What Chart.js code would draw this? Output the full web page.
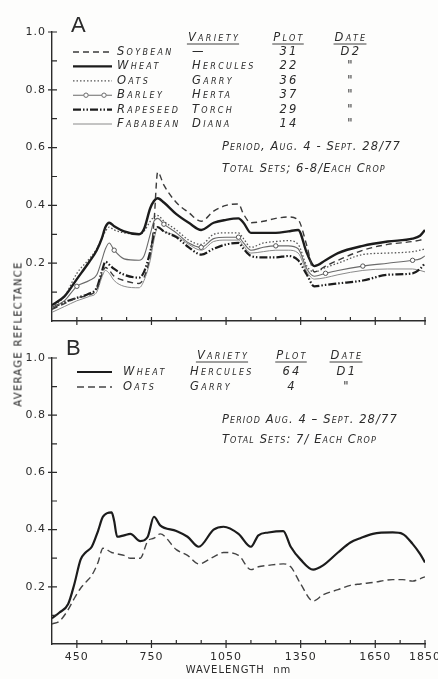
<!DOCTYPE html>
<html lang="en">
<head>
<meta charset="UTF-8">
<title>Average reflectance of crops</title>
<script src="https://cdn.jsdelivr.net/npm/chart.js"></script>
<style>
  html, body { margin: 0; padding: 0; background: #fdfdfc; }
  #page { position: relative; width: 438px; height: 679px; overflow: hidden; }
  canvas { position: absolute; left: 0; }
  #chartA { top: 0; }
  #chartB { top: 330px; }
  #ytitle {
    position: absolute; left: 18px; top: 334px;
    transform: translate(-50%, -50%) rotate(-90deg);
    font: 10px 'DejaVu Sans', sans-serif; letter-spacing: 1.3px;
    color: #222; white-space: nowrap;
  }
</style>
</head>
<body>
<div id="page">
  <canvas id="chartA" width="438" height="330"></canvas>
  <canvas id="chartB" width="438" height="349"></canvas>
  <div id="ytitle">AVERAGE REFLECTANCE</div>
</div>
<script>
// ---- axis ticks ----
const xTickValues = [450, 550, 650, 750, 850, 950, 1050, 1150, 1250, 1350, 1450, 1550, 1650, 1750, 1850];
const xTickLabels = ['450', '', '', '750', '', '', '1050', '', '', '1350', '', '', '1650', '', '1850'];
const yTickValues = [0, 0.1, 0.2, 0.3, 0.4, 0.5, 0.6, 0.7, 0.8, 0.9, 1.0];
const yTickLabels = ['', '', '0.2', '', '0.4', '', '0.6', '', '0.8', '', '1.0'];

// ---- panel A : six crops ----
const cropsA = ['Soybean', 'Wheat', 'Oats', 'Barley', 'Rapeseed', 'Fababean'];
const varietiesA = ['—', 'Hercules', 'Garry', 'Herta', 'Torch', 'Diana'];
const plotsA = ['31', '22', '36', '37', '29', '14'];
const datesA = ['D2', '"', '"', '"', '"', '"'];
const notesA = ['Period, Aug. 4 - Sept. 28/77', 'Total Sets; 6-8/Each Crop'];

const wlA = [350, 400, 450, 500, 530, 550, 565, 580, 600, 640, 700, 720, 745, 760, 775, 800, 850, 900, 950, 1000,
  1050, 1100, 1120, 1150, 1200, 1250, 1300, 1340, 1375, 1405, 1450, 1500, 1600, 1700, 1800, 1830, 1850];
const soybeanA = [.04, .06, .08, .09, .11, .16, .185, .175, .155, .14, .13, .15, .23, .34, .515, .47, .41, .375, .345, .38,
  .40, .405, .37, .34, .345, .355, .36, .35, .26, .17, .19, .21, .245, .265, .275, .28, .285];
const wheatA = [.055, .085, .145, .205, .245, .285, .325, .34, .328, .31, .30, .318, .39, .415, .425, .41, .37, .34, .315, .34,
  .35, .355, .34, .305, .305, .305, .31, .315, .235, .19, .21, .235, .26, .275, .285, .295, .315];
const oatsA = [.05, .085, .165, .215, .25, .285, .31, .325, .315, .305, .30, .31, .345, .36, .365, .345, .315, .28, .265, .30,
  .305, .305, .285, .255, .27, .275, .278, .265, .19, .17, .185, .20, .23, .235, .24, .245, .25];
const barleyA = [.045, .07, .12, .14, .16, .21, .25, .27, .245, .215, .21, .225, .30, .345, .355, .335, .305, .27, .255, .285,
  .29, .29, .27, .245, .255, .26, .26, .25, .18, .155, .165, .175, .19, .20, .21, .215, .225];
const rapeseedA = [.045, .065, .08, .095, .115, .17, .205, .195, .18, .16, .15, .17, .24, .30, .325, .31, .29, .255, .23, .25,
  .265, .27, .25, .225, .22, .22, .225, .21, .16, .12, .125, .13, .14, .16, .165, .18, .20];
const fababeanA = [.03, .05, .07, .085, .10, .15, .175, .165, .14, .12, .115, .14, .21, .28, .325, .31, .295, .265, .245, .275,
  .28, .28, .26, .235, .24, .245, .245, .235, .17, .145, .15, .16, .175, .18, .18, .175, .17];
const barleyMarkWl = [450, 600, 800, 950, 1100, 1250, 1450, 1600, 1800];

// ---- panel B : wheat and oats ----
const cropsB = ['Wheat', 'Oats'];
const varietiesB = ['Hercules', 'Garry'];
const plotsB = ['64', '4'];
const datesB = ['D1', '"'];
const notesB = ['Period Aug. 4 – Sept. 28/77', 'Total Sets: 7/ Each Crop'];

const wlB = [350, 380, 415, 440, 465, 485, 510, 535, 555, 590, 600, 612, 640, 665, 705, 735, 760, 785, 850, 895,
  940, 1000, 1040, 1100, 1150, 1180, 1220, 1280, 1310, 1350, 1400, 1440, 1500, 1550, 1590, 1640, 1720, 1760, 1800, 1830, 1850];
const wheatB = [.09, .11, .14, .21, .295, .32, .34, .395, .445, .46, .43, .375, .38, .385, .36, .375, .445, .415, .395, .375,
  .34, .40, .41, .385, .34, .38, .39, .395, .34, .295, .26, .275, .32, .355, .37, .385, .39, .385, .35, .315, .285];
const oatsB = [.07, .08, .12, .16, .195, .215, .24, .285, .335, .32, .318, .315, .31, .30, .30, .36, .37, .385, .33, .31,
  .28, .305, .32, .31, .26, .27, .275, .28, .27, .21, .15, .172, .19, .205, .21, .215, .225, .225, .22, .228, .235];

const INK = '#2b2b2b';
const LETTERING = "italic small-caps 11.5px 'DejaVu Sans', sans-serif";
const toPoints = (xs, ys) => xs.map((x, i) => ({ x: x, y: ys[i] }));

const styleA = [
  { borderColor: '#3a3a3a', borderWidth: 1.4, borderDash: [6, 4] },
  { borderColor: '#1c1c1c', borderWidth: 2.4 },
  { borderColor: '#555', borderWidth: 1.3, borderDash: [1.5, 2] },
  { borderColor: '#6a6a6a', borderWidth: 1.1, legendMarks: true,
    pointRadius: c => barleyMarkWl.includes(wlA[c.dataIndex]) ? 2.2 : 0,
    pointBackgroundColor: '#fff', pointBorderColor: '#555', pointBorderWidth: 1 },
  { borderColor: '#1c1c1c', borderWidth: 2.2, borderDash: [8, 2, 1.5, 2, 1.5, 2] },
  { borderColor: '#8a8a8a', borderWidth: 1 }
];
const styleB = [
  { borderColor: '#1c1c1c', borderWidth: 2.2 },
  { borderColor: '#444', borderWidth: 1.4, borderDash: [7, 4] }
];

// spaced-out lettering for tick labels and axis title
const spacing = {
  id: 'spacing',
  beforeDraw(chart) { chart.ctx.letterSpacing = '1px'; }
};

// tick marks that cross the axis (major) or point inward (minor)
const axisTicks = {
  id: 'axisTicks',
  afterDraw(chart) {
    const { ctx, chartArea, scales: { x, y } } = chart;
    ctx.save();
    ctx.strokeStyle = INK;
    ctx.lineWidth = 1.2;
    ctx.beginPath();
    xTickValues.forEach((v, i) => {
      const px = x.getPixelForValue(v);
      const major = xTickLabels[i] !== '';
      ctx.moveTo(px, chartArea.bottom - 4);
      ctx.lineTo(px, chartArea.bottom + (major ? 4 : 0));
    });
    yTickValues.forEach((v, i) => {
      if (i === 0) return;
      const py = y.getPixelForValue(v);
      const major = yTickLabels[i] !== '';
      ctx.moveTo(chartArea.left - (major ? 4 : 0), py);
      ctx.lineTo(chartArea.left + 5, py);
    });
    ctx.stroke();
    ctx.restore();
  }
};

// panel letter, legend table and notes
const panelText = {
  id: 'panelText',
  afterDraw(chart, args, o) {
    const ctx = chart.ctx;
    const datasets = chart.data.datasets;
    ctx.save();
    ctx.fillStyle = INK;
    ctx.letterSpacing = '0px';
    ctx.font = "22px 'Liberation Sans', sans-serif";
    ctx.textBaseline = 'alphabetic';
    ctx.fillText(o.letter, o.letterX, o.letterY);

    ctx.font = LETTERING;
    ctx.letterSpacing = '2.3px';
    ctx.textBaseline = 'middle';
    ctx.strokeStyle = INK;
    ctx.lineWidth = 0.9;
    [['Variety', o.varietyHeadX], ['Plot', o.plotX], ['Date', o.dateX]].forEach(([t, cx]) => {
      const w = ctx.measureText(t).width;
      ctx.fillText(t, cx - w / 2, o.headY);
      ctx.beginPath();
      ctx.moveTo(cx - w / 2 - 1, o.headY + 6);
      ctx.lineTo(cx + w / 2 - 1, o.headY + 6);
      ctx.stroke();
    });

    o.crops.forEach((name, i) => {
      const y = o.rowY + i * o.rowStep;
      const ds = datasets[i];
      ctx.save();
      ctx.strokeStyle = ds.borderColor;
      ctx.lineWidth = ds.borderWidth;
      ctx.setLineDash(ds.borderDash || []);
      ctx.beginPath();
      ctx.moveTo(o.sampleX0, y);
      ctx.lineTo(o.sampleX1, y);
      ctx.stroke();
      if (ds.legendMarks) {
        ctx.setLineDash([]);
        ctx.lineWidth = 1;
        ctx.fillStyle = '#fff';
        [o.sampleX0 + 13, o.sampleX1 - 8].forEach(mx => {
          ctx.beginPath();
          ctx.arc(mx, y, 2.2, 0, Math.PI * 2);
          ctx.fill();
          ctx.stroke();
        });
      }
      ctx.restore();
      ctx.fillText(name, o.nameX, y);
      ctx.fillText(o.varieties[i], o.varietyX, y);
      const pw = ctx.measureText(o.plots[i]).width;
      ctx.fillText(o.plots[i], o.plotX - pw / 2, y);
      const dw = ctx.measureText(o.dates[i]).width;
      ctx.fillText(o.dates[i], o.dateX - dw / 2, y);
    });

    ctx.letterSpacing = '1.1px';
    o.notes.forEach((t, k) => ctx.fillText(t, o.noteX, o.noteY + k * o.noteStep));
    ctx.restore();
  }
};

function makeChart(id, crops, wl, series, styles, showXLabels, pad, xHeight, textOpts) {
  const datasets = crops.map((name, i) => Object.assign({
    label: name,
    data: toPoints(wl, series[i]),
    pointRadius: 0,
    fill: false,
    cubicInterpolationMode: 'monotone'
  }, styles[i]));
  return new Chart(document.getElementById(id), {
    type: 'line',
    data: { datasets: datasets },
    plugins: [spacing, axisTicks, panelText],
    options: {
      responsive: false,
      animation: false,
      devicePixelRatio: 1,
      layout: { padding: pad },
      plugins: { legend: { display: false }, tooltip: { enabled: false }, panelText: textOpts },
      scales: {
        x: {
          type: 'linear', min: 350, max: 1850,
          grid: { display: false, drawTicks: false },
          border: { display: true, color: INK, width: 1.4 },
          afterBuildTicks: s => { s.ticks = xTickValues.map(v => ({ value: v })); },
          afterFit: s => { s.height = xHeight; s.paddingLeft = 0; s.paddingRight = 0; },
          ticks: {
            display: showXLabels, autoSkip: false, maxRotation: 0, padding: 7,
            color: INK, font: { family: 'DejaVu Sans', size: 11 },
            callback: (v, i) => xTickLabels[i]
          },
          title: {
            display: showXLabels, text: 'WAVELENGTH  nm', color: INK,
            font: { family: 'DejaVu Sans', size: 10 }, padding: { top: 0, bottom: 3 }
          }
        },
        y: {
          min: 0, max: 1,
          grid: { display: false, drawTicks: false },
          border: { display: true, color: INK, width: 1.4 },
          afterBuildTicks: s => { s.ticks = yTickValues.map(v => ({ value: v })); },
          afterFit: s => { s.width = 52; s.paddingTop = 0; s.paddingBottom = 0; },
          ticks: {
            autoSkip: false, padding: 6, color: INK,
            font: { family: 'DejaVu Sans', size: 11 },
            callback: (v, i) => yTickLabels[i]
          }
        }
      }
    }
  });
}

makeChart('chartA', cropsA, wlA, [soybeanA, wheatA, oatsA, barleyA, rapeseedA, fababeanA], styleA, false,
  { top: 32, right: 13, bottom: 0, left: 0 }, 9,
  { letter: 'A', letterX: 71, letterY: 32, crops: cropsA, varieties: varietiesA, plots: plotsA, dates: datesA,
    notes: notesA, headY: 38, varietyHeadX: 214, plotX: 289, dateX: 351, rowY: 52, rowStep: 14.4,
    sampleX0: 73, sampleX1: 112, nameX: 117, varietyX: 192, noteX: 222, noteY: 147, noteStep: 22 });

makeChart('chartB', cropsB, wlB, [wheatB, oatsB], styleB, true,
  { top: 28, right: 13, bottom: 0, left: 0 }, 35,
  { letter: 'B', letterX: 66, letterY: 25, crops: cropsB, varieties: varietiesB, plots: plotsB, dates: datesB,
    notes: notesB, headY: 26, varietyHeadX: 223, plotX: 292, dateX: 347, rowY: 42, rowStep: 15,
    sampleX0: 77, sampleX1: 112, nameX: 123, varietyX: 190, noteX: 222, noteY: 90, noteStep: 20 });
</script>
</body>
</html>
